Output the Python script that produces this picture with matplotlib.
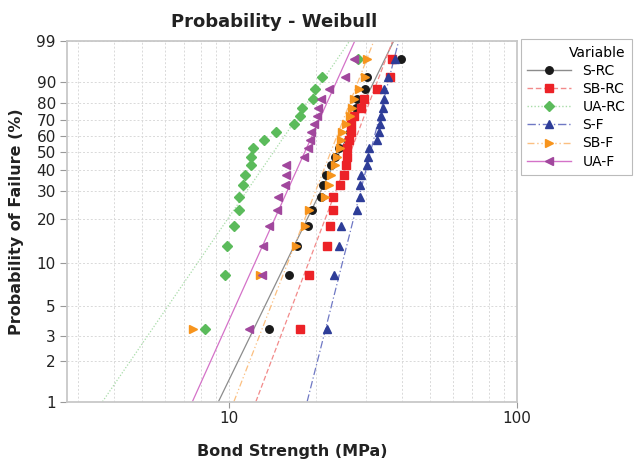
import numpy as np
from matplotlib import pyplot as plt
from matplotlib.ticker import FixedLocator, NullFormatter, NullLocator

# median-rank plotting positions (%), shared by all six samples (n = 20)
prob = [3.4, 8.3, 13.2, 18.1, 23.0, 27.9, 32.8, 37.7, 42.6, 47.5,
        52.5, 57.4, 62.3, 67.2, 72.1, 77.0, 81.9, 86.8, 91.7, 96.6]

# bond strength (MPa), sorted per sample
s_rc = [13.8, 16.16, 17.2, 18.76, 19.46, 20.86, 21.26, 21.72, 22.6, 23.33,
        24.2, 25.9, 26.3, 26.5, 26.95, 27.54, 27.8, 29.74, 30.22, 39.46]
sb_rc = [17.64, 18.96, 21.84, 22.42, 22.97, 23.05, 24.35, 25.21, 25.49, 25.62,
         25.82, 26.17, 26.6, 26.65, 27.16, 28.73, 29.43, 32.66, 36.22, 36.96]
ua_rc = [8.25, 9.66, 9.84, 10.43, 10.81, 10.85, 11.24, 11.34, 11.9, 11.95,
         12.15, 13.27, 14.57, 16.82, 17.69, 17.93, 19.58, 19.95, 21.14, 28.05]
s_f = [21.89, 23.09, 24.04, 24.49, 27.76, 28.5, 28.65, 28.73, 30.22, 30.47,
       30.71, 32.73, 33.35, 33.44, 33.8, 34.25, 34.53, 34.71, 35.65, 37.9]
sb_f = [7.48, 12.81, 17.05, 18.41, 18.91, 21.49, 22.24, 22.72, 23.28, 23.84,
        24.35, 24.49, 24.75, 25.49, 26.38, 26.81, 27.31, 28.35, 29.75, 30.27]
ua_f = [11.76, 13.02, 13.15, 13.77, 14.7, 14.8, 15.64, 15.77, 15.8, 18.22,
        18.76, 19.11, 19.26, 19.78, 20.16, 20.43, 20.81, 22.24, 25.28, 27.16]

# fitted Weibull lines, read where they hit 1 % and 99 %
fit_lo = [9.2, 12.41, 3.64, 18.7, 10.41, 7.47]
fit_hi = [37.4, 37.1, 26.3, 38.9, 31.9, 27.4]

labels = ['S-RC', 'SB-RC', 'UA-RC', 'S-F', 'SB-F', 'UA-F']
samples = [s_rc, sb_rc, ua_rc, s_f, sb_f, ua_f]
yticks = [1, 2, 3, 5, 10, 20, 30, 40, 50, 60, 70, 80, 90, 99]

markers = ['o', 's', 'D', '^', '>', '<']
mcolors = ['#1a1a1a', '#ec2227', '#5bbb5b', '#2e3d98', '#f7941d', '#a1479d']
lcolors = ['#8c8c8c', '#f28a8a', '#a8dca8', '#6f78c4', '#fbbf80', '#d472c8']
lstyles = ['-', (0, (4, 2)), (0, (1, 1.5)), (0, (6, 2, 1, 2)), (0, (5, 2, 1, 2, 1, 2)), '-']
msizes = [5.4, 5.4, 5.4, 6.4, 6.4, 6.4]


def weib(p):
    p = np.clip(np.asarray(p, dtype=float), 1e-6, 100 - 1e-6)
    return np.log(-np.log(1 - p / 100))


def weib_inv(y):
    return 100 * (1 - np.exp(-np.exp(y)))


fig = plt.figure(figsize=(6.38, 4.63), dpi=100)
ax = fig.add_axes([0.105, 0.1325, 0.705, 0.7795])

handles = []
for i in range(len(labels)):
    ax.plot([fit_lo[i], fit_hi[i]], [1, 99], color=lcolors[i], ls=lstyles[i], lw=0.9, zorder=2)
    ax.plot(samples[i], prob, ls='none', marker=markers[i], ms=msizes[i],
            color=mcolors[i], mec=mcolors[i], zorder=3)
    h, = ax.plot([], [], color=lcolors[i], ls=lstyles[i], lw=1.0, marker=markers[i],
                 ms=msizes[i], mfc=mcolors[i], mec=mcolors[i], label=labels[i])
    handles.append(h)

ax.set_xscale('log')
ax.set_yscale('function', functions=(weib, weib_inv))
ax.set_xlim(2.74, 100)
ax.set_ylim(1, 99)

ax.xaxis.set_major_locator(FixedLocator([10, 100]))
ax.set_xticklabels(['10', '100'])
ax.xaxis.set_minor_locator(FixedLocator([3, 4, 5, 6, 7, 8, 9, 20, 30, 40, 50, 60, 70, 80, 90]))
ax.xaxis.set_minor_formatter(NullFormatter())
ax.yaxis.set_major_locator(FixedLocator(yticks))
ax.set_yticklabels([str(t) for t in yticks])
ax.yaxis.set_minor_locator(NullLocator())

ax.grid(True, which='both', color='#d9d9d9', ls=(0, (2, 2)), lw=0.7)
ax.set_axisbelow(True)
for sp in ax.spines.values():
    sp.set_color('#c8c8c8')
    sp.set_linewidth(1.3)
ax.tick_params(axis='both', which='major', length=4, color='#999999', labelsize=11,
               labelcolor='#222222', pad=3)
ax.tick_params(axis='x', which='minor', length=0)
ax.tick_params(axis='y', which='major', length=5)

ax.set_title('Probability - Weibull', fontsize=13, fontweight='bold', color='#222222', pad=10,
             x=0.46)
ax.set_xlabel('Bond Strength (MPa)', fontsize=11.5, fontweight='bold', color='#222222', labelpad=13)
ax.set_ylabel('Probability of Failure (%)', fontsize=11.5, fontweight='bold', color='#222222',
              labelpad=9)

leg = fig.legend(handles=handles, title='Variable', loc='upper left', bbox_to_anchor=(0.816, 0.915),
                 fontsize=10, title_fontsize=10, frameon=True, fancybox=False,
                 edgecolor='#aaaaaa', handlelength=3.2, borderpad=0.45, labelspacing=0.3,
                 handletextpad=0.8, borderaxespad=0)
leg.get_frame().set_linewidth(0.8)
leg._legend_box.align = 'right'

plt.savefig('out.png', dpi=100)
